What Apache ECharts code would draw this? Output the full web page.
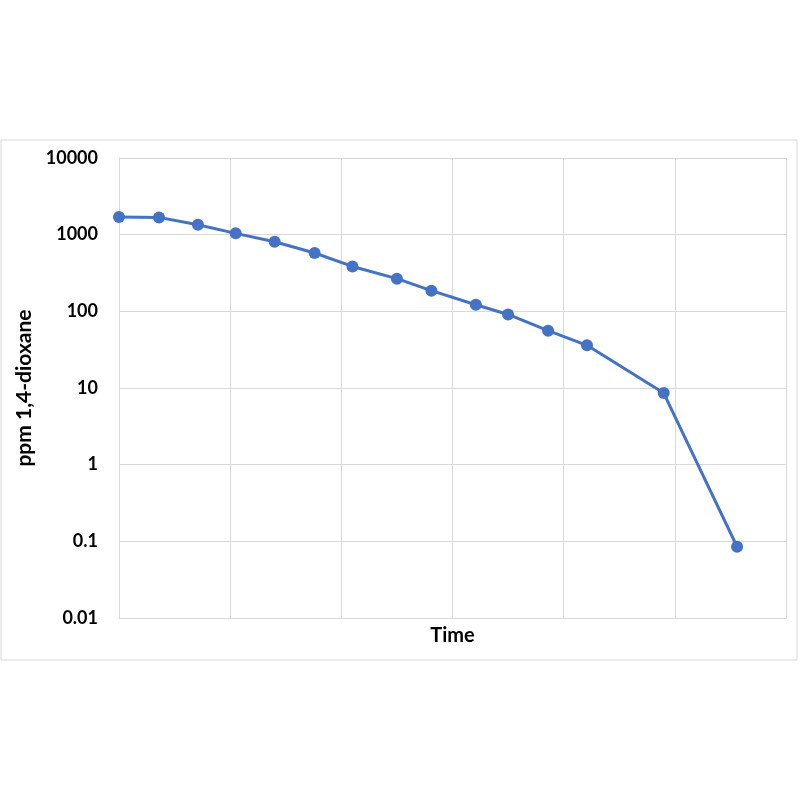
<!DOCTYPE html>
<html>
<head>
<meta charset="utf-8">
<script src="https://cdn.jsdelivr.net/npm/echarts@6/dist/echarts.min.js"></script>
<style>
  html, body { margin: 0; padding: 0; background: #fff; }
  #chart { width: 800px; height: 800px; }
</style>
</head>
<body>
<div id="chart"></div>
<script>
// time (in grid units) and measured 1,4-dioxane concentration
const timePoints = [0, 0.36, 0.71, 1.05, 1.4, 1.76, 2.1, 2.5, 2.81, 3.21, 3.5, 3.86, 4.21, 4.9, 5.56];
const ppmValues = [1700, 1680, 1350, 1040, 810, 577, 385, 267, 186, 122, 91, 56, 36, 8.6, 0.085];
const yTicks = [0.01, 0.1, 1, 10, 100, 1000, 10000];

const chart = echarts.init(document.getElementById('chart'));
const gridColor = '#d9d9d9';
const font = 'Lato, "Open Sans", sans-serif';

chart.setOption({
  animation: false,
  graphic: [{
    type: 'rect',
    shape: { x: 1, y: 140, width: 796, height: 520 },
    style: { fill: 'none', stroke: '#d9d9d9', lineWidth: 1 },
    z: -1
  }],
  grid: { left: 119, right: 14, top: 158, bottom: 182 },
  xAxis: {
    type: 'value',
    min: 0,
    max: 6,
    interval: 1,
    name: 'Time',
    nameLocation: 'middle',
    nameGap: 8,
    nameTextStyle: { fontFamily: font, fontWeight: 'bold', fontSize: 20, color: '#000', verticalAlign: 'top' },
    axisLine: { show: true, lineStyle: { color: gridColor } },
    axisTick: { show: false },
    axisLabel: { show: false },
    splitLine: { show: true, lineStyle: { color: gridColor } }
  },
  yAxis: {
    type: 'log',
    logBase: 10,
    min: yTicks[0],
    max: yTicks[yTicks.length - 1],
    name: 'ppm 1,4-dioxane',
    nameLocation: 'middle',
    nameGap: 89,
    nameRotate: 90,
    nameTextStyle: { fontFamily: font, fontWeight: 'bold', fontSize: 21, color: '#000', verticalAlign: 'middle' },
    axisLine: { show: true, lineStyle: { color: gridColor } },
    axisTick: { show: false },
    axisLabel: {
      fontFamily: font, fontWeight: 'bold', fontSize: 18, color: '#000', margin: 21,
      formatter: v => String(+Number(v).toPrecision(1))
    },
    splitLine: { show: true, lineStyle: { color: gridColor } }
  },
  series: [{
    type: 'line',
    data: timePoints.map((t, i) => [t, ppmValues[i]]),
    symbol: 'circle',
    symbolSize: 12,
    itemStyle: { color: '#4472c4' },
    lineStyle: { color: '#4472c4', width: 3 }
  }]
});
</script>
</body>
</html>
